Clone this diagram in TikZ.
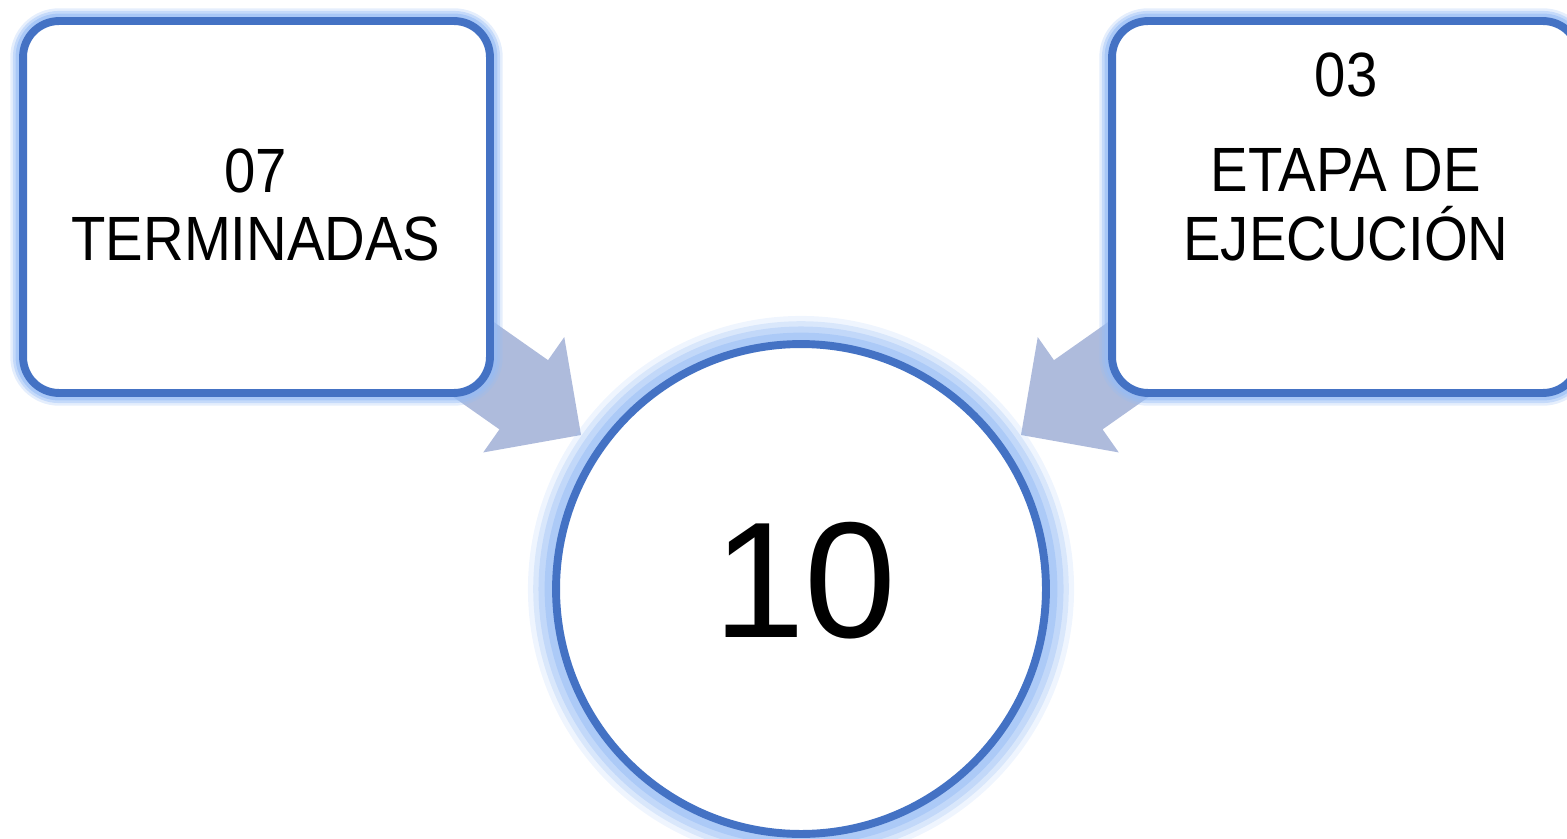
\documentclass[tikz,border=0pt]{standalone}
\usepackage{fontspec}
\setmainfont{Liberation Sans}[FakeStretch=0.9]
\newfontfamily\bigfont{Liberation Sans}
\usetikzlibrary{calc}
\pgfdeclarelayer{bg}
\pgfsetlayers{bg,main}
\definecolor{edge}{RGB}{68,114,196}
\definecolor{glowc}{RGB}{150,188,245}
\definecolor{arrowc}{RGB}{174,187,220}
\begin{document}
\begin{tikzpicture}[x=0.02cm,y=-0.02cm,
  box/.style={draw=edge, line width=4.5pt, fill=white, rounded corners=0.72cm,
    minimum width=9.34cm, minimum height=7.44cm, inner sep=0pt,
    preaction={draw=glowc, line width=14.5pt, opacity=0.25},
    preaction={draw=glowc, line width=11.5pt, opacity=0.4},
    preaction={draw=glowc, line width=8.5pt, opacity=0.6}},
  ring/.style={circle, draw=edge, line width=4.5pt, fill=white,
    minimum size=9.8cm, inner sep=0pt,
    preaction={draw=glowc, line width=32pt, opacity=0.15},
    preaction={draw=glowc, line width=26pt, opacity=0.25},
    preaction={draw=glowc, line width=20pt, opacity=0.35},
    preaction={draw=glowc, line width=13pt, opacity=0.5}},
  lbl/.style={align=center, inner sep=0pt, text=black,
    font=\fontsize{35.6pt}{39pt}\selectfont},
  biglbl/.style={inner sep=0pt, text=black,
    font=\bigfont\fontsize{94pt}{100pt}\selectfont},
  blockarrow/.style={fill=arrowc}
]
\useasboundingbox (0,0) rectangle (1567,838);
\clip (0,0) rectangle (1567,838);

% boxes and circle
\node[box] (l) at (256.5,207) {};
\node[box] (r) at (1345.5,207) {};
\node[ring] (c) at (801,589) {};

% texts
\node[lbl] (lt) at (256,205) {07\\TERMINADAS};
\node[lbl] (rt) at (1346,157) {03\\[15pt]ETAPA DE\\EJECUCIÓN};
\node[biglbl] (ct) at (805,580.5) {10};

% block arrows (behind)
\coordinate (tl) at (581,435);
\coordinate (tr) at (1021,435);
\begin{pgfonlayer}{bg}
\coordinate (hl) at ($(tl)!1.4cm!(l.center)$);
\fill[blockarrow] (tl) -- ($(hl)!1.41cm!90:(l.center)$) -- ($(hl)!0.846cm!90:(l.center)$)
  -- ($(l.center)!0.846cm!-90:(tl)$) -- ($(l.center)!0.846cm!90:(tl)$)
  -- ($(hl)!0.846cm!-90:(l.center)$) -- ($(hl)!1.41cm!-90:(l.center)$) -- cycle;
\coordinate (hr) at ($(tr)!1.4cm!(r.center)$);
\fill[blockarrow] (tr) -- ($(hr)!1.41cm!90:(r.center)$) -- ($(hr)!0.846cm!90:(r.center)$)
  -- ($(r.center)!0.846cm!-90:(tr)$) -- ($(r.center)!0.846cm!90:(tr)$)
  -- ($(hr)!0.846cm!-90:(r.center)$) -- ($(hr)!1.41cm!-90:(r.center)$) -- cycle;
\end{pgfonlayer}
\end{tikzpicture}
\end{document}
